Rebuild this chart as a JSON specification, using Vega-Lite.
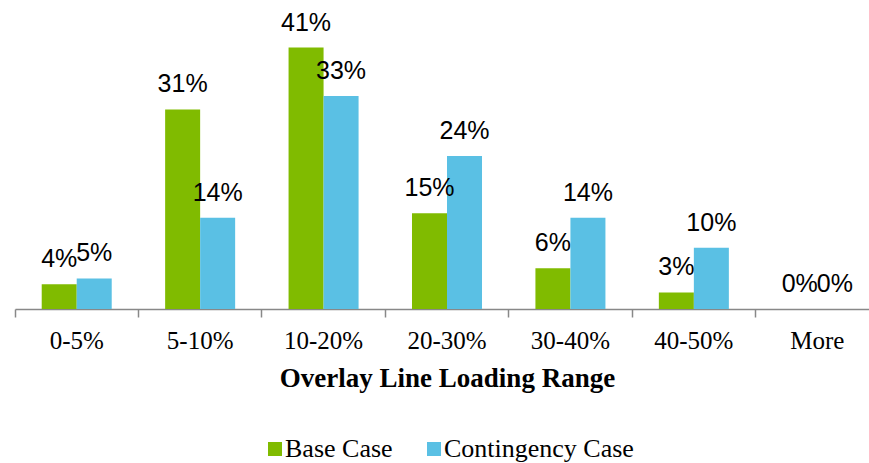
{
  "$schema": "https://vega.github.io/schema/vega-lite/v6.json",
  "width": 864,
  "height": 287,
  "autosize": {"type": "none"},
  "padding": {"left": 15, "top": 22, "right": 0, "bottom": 154},
  "background": "white",
  "config": {"view": {"stroke": null}},
  "data": {
    "values": [
      {"range": "0-5%", "case": "Base Case", "share": 0.039},
      {"range": "0-5%", "case": "Contingency Case", "share": 0.048},
      {"range": "5-10%", "case": "Base Case", "share": 0.313},
      {"range": "5-10%", "case": "Contingency Case", "share": 0.143},
      {"range": "10-20%", "case": "Base Case", "share": 0.41},
      {"range": "10-20%", "case": "Contingency Case", "share": 0.334},
      {"range": "20-30%", "case": "Base Case", "share": 0.15},
      {"range": "20-30%", "case": "Contingency Case", "share": 0.24},
      {"range": "30-40%", "case": "Base Case", "share": 0.064},
      {"range": "30-40%", "case": "Contingency Case", "share": 0.143},
      {"range": "40-50%", "case": "Base Case", "share": 0.026},
      {"range": "40-50%", "case": "Contingency Case", "share": 0.096},
      {"range": "More", "case": "Base Case", "share": 0.0},
      {"range": "More", "case": "Contingency Case", "share": 0.0}
    ]
  },
  "encoding": {
    "x": {
      "field": "range",
      "type": "nominal",
      "sort": ["0-5%", "5-10%", "10-20%", "20-30%", "30-40%", "40-50%", "More"],
      "scale": {"paddingInner": 0, "paddingOuter": 0},
      "axis": {
        "title": "Overlay Line Loading Range",
        "titleFont": "Liberation Serif",
        "titleFontSize": 27,
        "titleFontWeight": "bold",
        "titleColor": "black",
        "titlePadding": 12,
        "labelFont": "Liberation Serif",
        "labelFontSize": 25,
        "labelColor": "black",
        "labelAngle": 0,
        "labelPadding": 11,
        "bandPosition": 0,
        "tickSize": 8,
        "tickColor": "#888888",
        "domainColor": "#888888",
        "domainWidth": 1.5,
        "tickWidth": 1.5,
        "grid": false
      }
    },
    "xOffset": {
      "field": "case",
      "type": "nominal",
      "scale": {"paddingInner": 0, "paddingOuter": 0.763}
    },
    "y": {
      "field": "share",
      "type": "quantitative",
      "scale": {"domain": [0, 0.45]},
      "axis": null
    }
  },
  "layer": [
    {
      "mark": {"type": "bar"},
      "encoding": {
        "color": {
          "field": "case",
          "type": "nominal",
          "scale": {"domain": ["Base Case", "Contingency Case"], "range": ["#80BB00", "#5AC0E4"]},
          "legend": {
            "title": null,
            "orient": "none",
            "legendX": 247,
            "legendY": 414,
            "padding": 0,
            "direction": "horizontal",
            "symbolType": "square",
            "symbolSize": 196,
            "symbolStrokeWidth": 0,
            "labelFont": "Liberation Serif",
            "labelFontSize": 26,
            "labelColor": "black",
            "labelLimit": 0,
            "labelOffset": -3,
            "columnPadding": 28
          }
        }
      }
    },
    {
      "mark": {"type": "text", "baseline": "alphabetic", "dy": -17, "font": "Liberation Sans", "fontSize": 25, "color": "black"},
      "encoding": {
        "text": {"field": "share", "type": "quantitative", "format": ".0%"}
      }
    }
  ]
}
